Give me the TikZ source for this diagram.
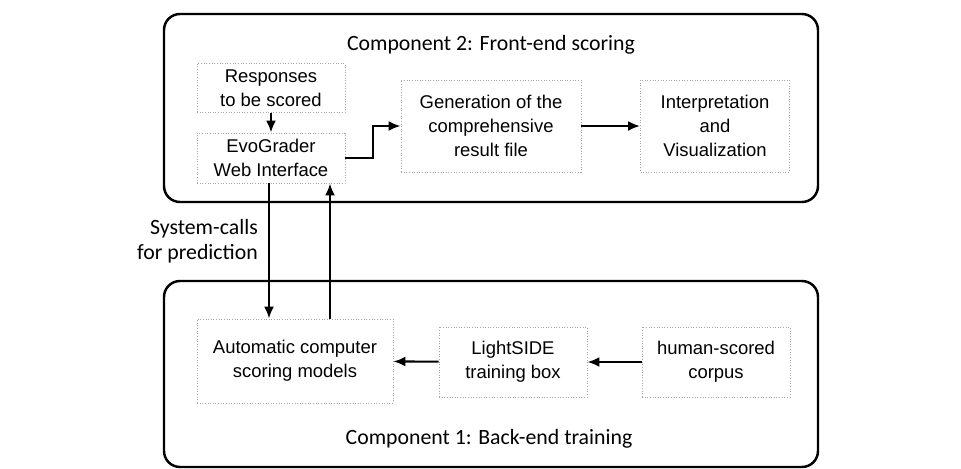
\documentclass[tikz,border=0pt]{standalone}
\usepackage{fontspec}
\setmainfont{Liberation Sans}
\newfontfamily\calibri{Carlito}
\usetikzlibrary{arrows.meta}

\tikzset{
    stagebox/.style={draw, line width=1.4pt, rounded corners=3.2mm},
    workbox/.style={draw=gray!70, densely dotted, line width=0.5pt, align=center,
        font=\fontsize{10.5}{13.5}\selectfont, inner sep=0pt},
    flow/.style={->, line width=1.2pt},
    >={Latex[length=2.4mm,width=2mm]}
}

\begin{document}
\begin{tikzpicture}[x=0.2mm, y=-0.2mm]
    \useasboundingbox (0,0) rectangle (961,468);

    % component 2 (front end)
    \draw[stagebox] (164,14) rectangle (818,202);
    \node[font=\calibri\fontsize{12.4}{14}\selectfont] (fronttitle) at (491,45) {Component 2: Front-end scoring};

    \node[workbox, minimum width=29.6mm, minimum height=9.8mm] (resp) at (271,88) {Responses\\to be scored};
    \node[workbox, minimum width=29.6mm, minimum height=10mm] (evo) at (271,158) {EvoGrader\\Web Interface};
    \node[workbox, minimum width=36mm, minimum height=18.4mm] (gen) at (491,126) {Generation of the\\comprehensive\\result file};
    \node[workbox, minimum width=29.8mm, minimum height=18.4mm] (interp) at (715,126) {Interpretation\\and\\Visualization};

    \draw[flow] (resp) -- (evo);
    \draw[flow] (evo.east) -- ++(28,0) |- (gen.west);
    \draw[flow] (gen) -- (interp);

    % component 1 (back end)
    \draw[stagebox] (164,281) rectangle (818,467);
    \node[font=\calibri\fontsize{12.4}{14}\selectfont] (backtitle) at (489,439) {Component 1: Back-end training};

    \node[workbox, minimum width=39.2mm, minimum height=16.8mm] (auto) at (295,361) {Automatic computer\\scoring models};
    \node[workbox, minimum width=29.6mm, minimum height=14mm] (light) at (513,362) {LightSIDE\\training box};
    \node[workbox, minimum width=29.6mm, minimum height=14mm] (human) at (716,362) {human-scored\\corpus};

    \draw[flow] (human) -- (light);
    \draw[flow] (light) -- (auto);

    % calls between the two components
    \coordinate (callx) at (269,0);
    \coordinate (backx) at (330,0);
    \draw[flow] (evo.south -| callx) -- (auto.north -| callx);
    \draw[flow] (auto.north -| backx) -- (evo.south -| backx);
    \node[font=\calibri\fontsize{12.4}{14.4}\selectfont, align=right, anchor=east] (calls) at (264,241) {System-calls\\for prediction};

\end{tikzpicture}
\end{document}
